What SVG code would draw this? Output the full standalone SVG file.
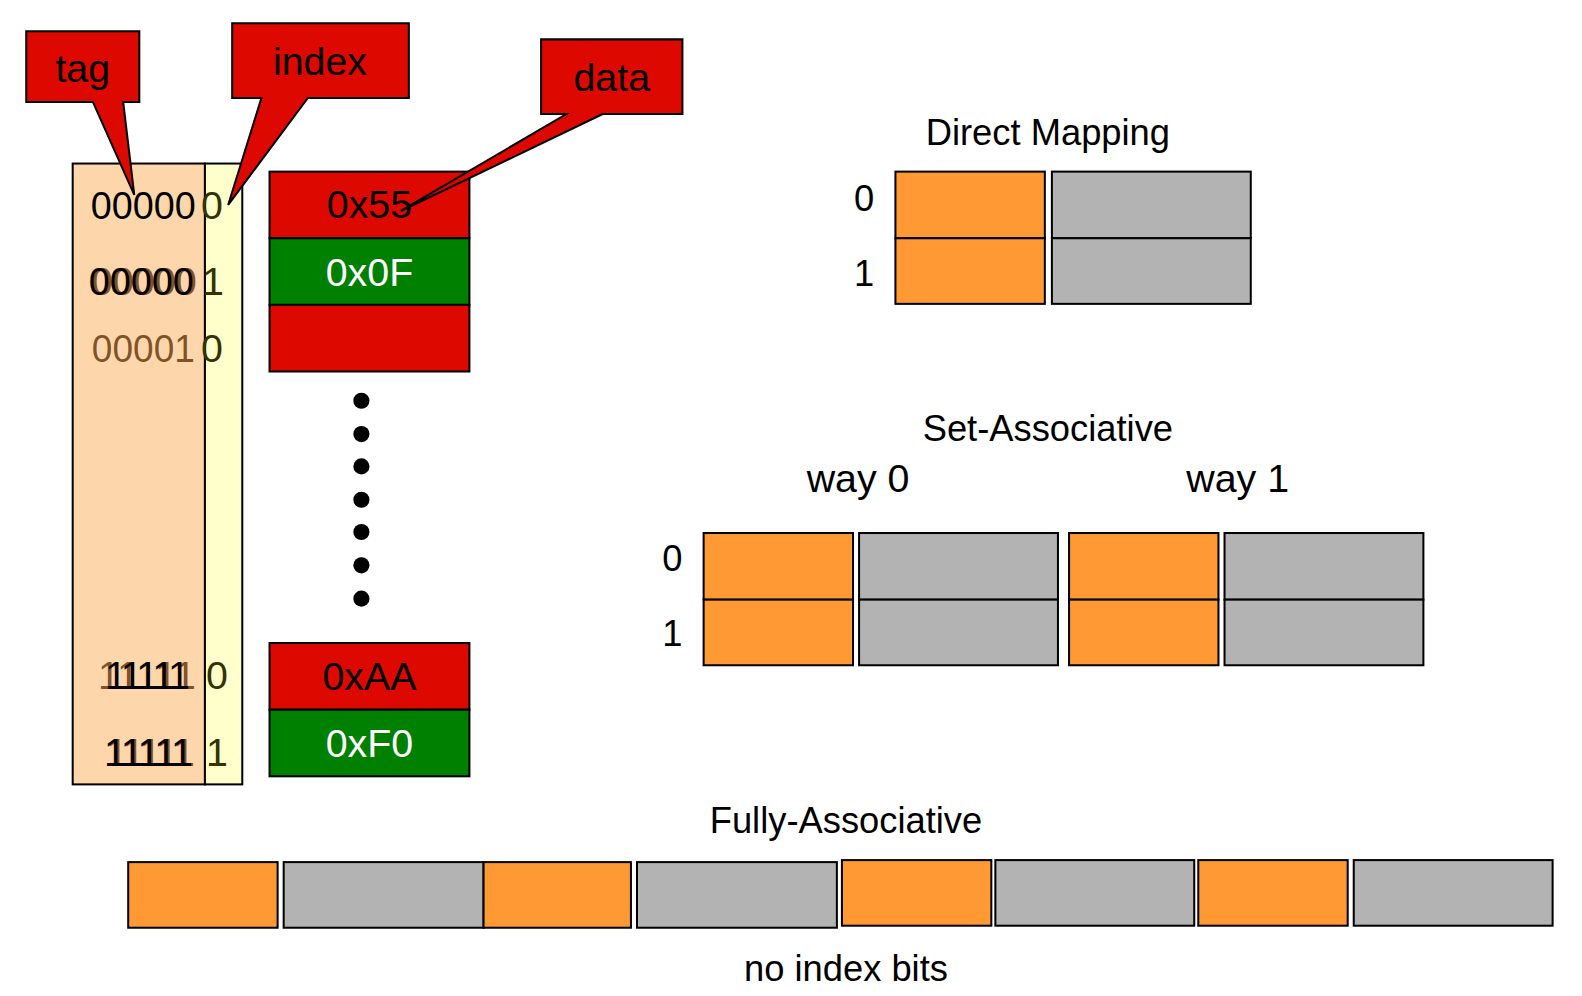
<svg xmlns="http://www.w3.org/2000/svg" width="1582" height="996" viewBox="0 0 1582 996">
<style>
text{font-family:"Liberation Sans",Arial,sans-serif;font-size:36px;fill:#000}
.b{font-size:39px}
.c{text-anchor:middle}
.e{text-anchor:end}
.w{fill:#fff}
.br{fill:#6b3a0e;fill-opacity:0.85}
.ix{fill:#333300}
.o{fill:#ff9933;stroke:#000;stroke-width:2}
.g{fill:#b3b3b3;stroke:#000;stroke-width:2}
.r{fill:#dd0900;stroke:#000;stroke-width:2}
.gr{fill:#008000;stroke:#000;stroke-width:2}
.co{fill:#dd0900;stroke:#000;stroke-width:2;stroke-linejoin:miter}
</style>
<rect width="1582" height="996" fill="#fff"/>
<g transform="scale(1.0095)">

<g id="tag-column">
<rect x="72" y="162" width="131" height="615" fill="#fed6ab" stroke="#000" stroke-width="2"/>
<text class="b e" x="194" y="217" textLength="104" lengthAdjust="spacingAndGlyphs">00000</text>
<text class="b e br" x="195" y="292" textLength="104" lengthAdjust="spacingAndGlyphs">00000</text>
<text class="b e" x="192" y="292" textLength="104" lengthAdjust="spacingAndGlyphs">00000</text>
<text class="b e br" x="193" y="359" textLength="102" lengthAdjust="spacingAndGlyphs">00001</text>
<text class="b e br" x="194" y="683">11111</text>
<text class="b e" x="188" y="683" textLength="84" lengthAdjust="spacing">11111</text>
<text class="b e br" x="193" y="759" textLength="88" lengthAdjust="spacing">11111</text>
<text class="b e" x="191" y="759" textLength="88" lengthAdjust="spacing">11111</text>
</g>

<g id="index-column">
<rect x="203" y="162" width="37" height="615" fill="#ffffcc" stroke="#000" stroke-width="2"/>
<text class="b ix" x="199" y="217">0</text>
<text class="b ix" x="200" y="292">1</text>
<text class="b ix" x="199" y="359">0</text>
<text class="b ix" x="204" y="683">0</text>
<text class="b ix" x="204" y="759">1</text>
</g>

<g id="data-top">
<rect class="r" x="267" y="170" width="198" height="66"/>
<rect class="gr" x="267" y="236" width="198" height="66"/>
<rect class="r" x="267" y="302" width="198" height="66"/>
<text class="b c" x="366" y="216">0x55</text>
<text class="b c w" x="366" y="283">0x0F</text>
</g>

<g id="ellipsis">
<circle cx="358" cy="397" r="8"/>
<circle cx="358" cy="430" r="8"/>
<circle cx="358" cy="462" r="8"/>
<circle cx="358" cy="495" r="8"/>
<circle cx="358" cy="527" r="8"/>
<circle cx="358" cy="560" r="8"/>
<circle cx="358" cy="593" r="8"/>
</g>

<g id="data-bottom">
<rect class="r" x="267" y="637" width="198" height="66"/>
<rect class="gr" x="267" y="703" width="198" height="66"/>
<text class="b c" x="366" y="684">0xAA</text>
<text class="b c w" x="366" y="750">0xF0</text>
</g>

<g id="connectors">
<g id="callout-tag">
<path class="co" d="M26,31 H138 V101 H122 L133,193 L92,101 H26 Z"/>
<text class="b c" x="82" y="81">tag</text>
</g>
<g id="callout-index">
<path class="co" d="M230,23 H405 V97 H305 L226,203 L259,97 H230 Z"/>
<text class="b c" x="317" y="74">index</text>
</g>
<g id="callout-data">
<path class="co" d="M536,39 H676 V113 H597 L397,209 L561,113 H536 Z"/>
<text class="b c" x="606" y="90">data</text>
</g>
</g>

<g id="direct-mapping">
<text class="c" x="1038" y="144">Direct Mapping</text>
<text class="c" x="856" y="209">0</text>
<text class="c" x="856" y="283">1</text>
<rect class="o" x="887" y="170" width="148" height="66"/>
<rect class="o" x="887" y="236" width="148" height="65"/>
<rect class="g" x="1042" y="170" width="197" height="66"/>
<rect class="g" x="1042" y="236" width="197" height="65"/>
</g>

<g id="set-associative">
<text class="c" x="1038" y="437">Set-Associative</text>
<text class="b c" x="850" y="487">way 0</text>
<text class="b c" x="1226" y="487">way 1</text>
<text class="c" x="666" y="566">0</text>
<text class="c" x="666" y="640">1</text>
<rect class="o" x="697" y="528" width="148" height="66"/>
<rect class="o" x="697" y="594" width="148" height="65"/>
<rect class="g" x="851" y="528" width="197" height="66"/>
<rect class="g" x="851" y="594" width="197" height="65"/>
<rect class="o" x="1059" y="528" width="148" height="66"/>
<rect class="o" x="1059" y="594" width="148" height="65"/>
<rect class="g" x="1213" y="528" width="197" height="66"/>
<rect class="g" x="1213" y="594" width="197" height="65"/>
</g>

<g id="fully-associative">
<text class="c" x="838" y="825">Fully-Associative</text>
<rect class="o" x="127" y="854" width="148" height="65"/>
<rect class="g" x="281" y="854" width="198" height="65"/>
<rect class="o" x="479" y="854" width="146" height="65"/>
<rect class="g" x="631" y="854" width="198" height="65"/>
<rect class="o" x="834" y="852" width="148" height="65"/>
<rect class="g" x="986" y="852" width="197" height="65"/>
<rect class="o" x="1187" y="852" width="148" height="65"/>
<rect class="g" x="1341" y="852" width="197" height="65"/>
<text class="c" x="838" y="972">no index bits</text>
</g>
</g>
</svg>
